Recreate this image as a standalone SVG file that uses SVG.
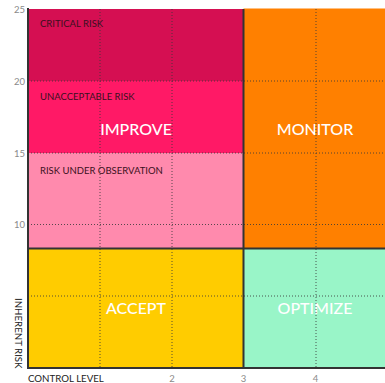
<svg xmlns="http://www.w3.org/2000/svg" width="385" height="383" viewBox="0 0 385 383">
<style>
text{font-family:Lato,"Open Sans","DejaVu Sans",sans-serif}
.zl{font-size:9.5px;fill:#3a1020}
.big{font-size:16px;fill:#ffffff;text-anchor:middle;font-weight:500}
.tick{font-size:9.5px;fill:#8a8a8a}
.ax{font-size:9.7px;fill:#222}
.grid{stroke:#3a3a3a;stroke-width:1;stroke-dasharray:1 2;fill:none;opacity:0.85}
.solid{stroke:#333;stroke-width:2;fill:none}
</style>
<rect width="385" height="383" fill="#ffffff"/>
<g id="critical-risk"><rect x="28" y="9" width="215.5" height="72" fill="#D50F52"/><text class="zl" x="40" y="27">CRITICAL RISK</text></g>
<g id="unacceptable-risk"><rect x="28" y="81" width="215.5" height="72" fill="#FF1966"/><text class="zl" x="40" y="100">UNACCEPTABLE RISK</text></g>
<g id="risk-under-observation"><rect x="28" y="153" width="215.5" height="95.5" fill="#FF8AAD"/><text class="zl" x="40" y="173.5">RISK UNDER OBSERVATION</text></g>
<g id="improve"><text class="big" x="136" y="134.5">IMPROVE</text></g>
<g id="monitor"><rect x="243.5" y="8.5" width="141.5" height="240" fill="#FF8000"/><text class="big" x="315" y="134.5">MONITOR</text></g>
<g id="accept"><rect x="28" y="248.5" width="215.5" height="119.5" fill="#FFCC00"/><text class="big" x="136" y="313.5">ACCEPT</text></g>
<g id="optimize"><rect x="243.5" y="248.5" width="141.5" height="119.5" fill="#99F5C8"/><text class="big" x="315" y="313.5">OPTIMIZE</text></g>
<g id="connectors">
<path class="grid" d="M28 81H385M28 153H385M28 224.5H385M28 296H385"/>
<path class="grid" d="M100 9V368M172 9V368M316 9V368"/>
<path class="solid" d="M243.5 9V368M28 248.5H385"/>
<path class="solid" d="M28 8V368H385"/>
</g>
<g id="y-axis">
<text class="tick" x="25" y="12.5" text-anchor="end">25</text>
<text class="tick" x="25" y="84.5" text-anchor="end">20</text>
<text class="tick" x="25" y="156.5" text-anchor="end">15</text>
<text class="tick" x="25" y="228" text-anchor="end">10</text>
<text class="ax" transform="translate(15,298) rotate(90)">INHERENT RISK</text>
</g>
<g id="x-axis">
<text class="ax" x="28" y="382">CONTROL LEVEL</text>
<text class="tick" x="172" y="382" text-anchor="middle">2</text>
<text class="tick" x="243.5" y="382" text-anchor="middle">3</text>
<text class="tick" x="315.5" y="382" text-anchor="middle">4</text>
</g>
</svg>
